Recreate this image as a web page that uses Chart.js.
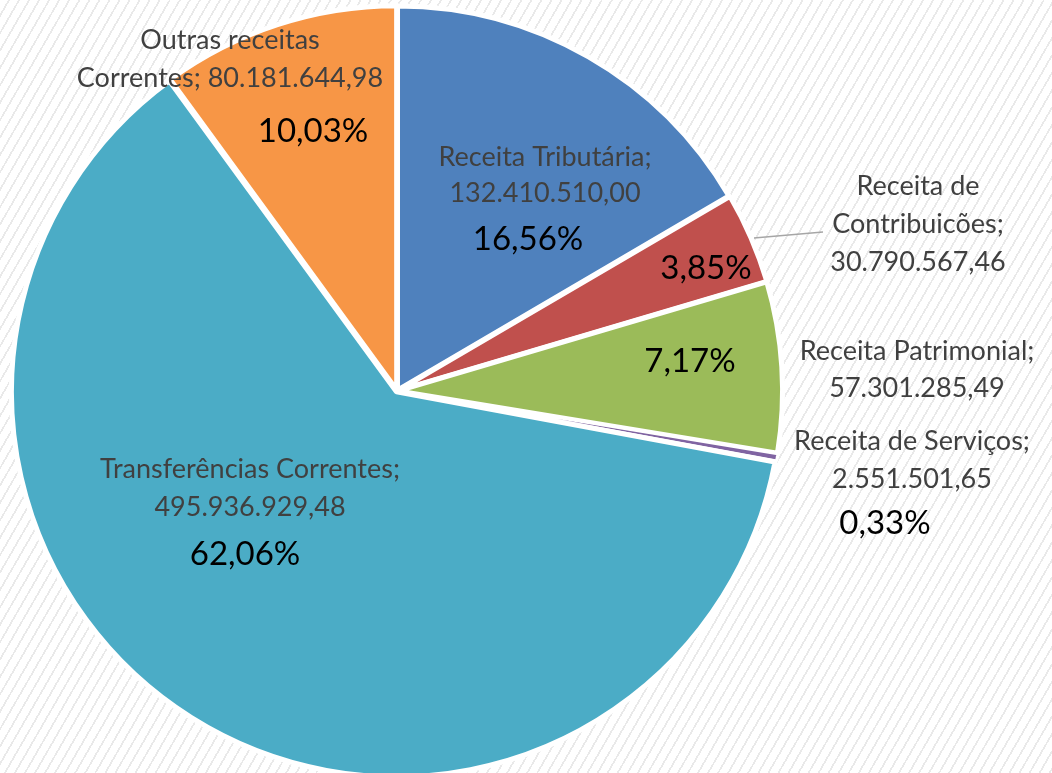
<!DOCTYPE html>
<html>
<head>
<meta charset="utf-8">
<script src="https://cdn.jsdelivr.net/npm/chart.js@4"></script>
<style>
  html, body { margin: 0; padding: 0; }
  body {
    width: 1052px; height: 773px; overflow: hidden;
    background: repeating-linear-gradient(120deg, #ffffff 0px, #ffffff 7px, #e9e9e9 7px, #e9e9e9 8.7px);
  }
  canvas { display: block; }
</style>
</head>
<body>
<canvas id="pie" width="1052" height="773"></canvas>
<script>
// data
const categories = ['Receita Tributária', 'Receita de Contribuicões', 'Receita Patrimonial',
                    'Receita de Serviços', 'Transferências Correntes', 'Outras receitas Correntes'];
const values = [132410510.00, 30790567.46, 57301285.49, 2551501.65, 495936929.48, 80181644.98];
const percentLabels = ['16,56%', '3,85%', '7,17%', '0,33%', '62,06%', '10,03%'];
const colors = ['#4f81bd', '#c0504d', '#9bbb59', '#8064a2', '#4bacc6', '#f79646'];

// text placement (label lines + percentage), canvas px
const labelLayout = [
  { lines: [['Receita Tributária;', 545, 157], ['132.410.510,00', 545, 193]], pct: [528, 239] },
  { lines: [['Receita de', 918, 186], ['Contribuicões;', 918, 224], ['30.790.567,46', 918, 262]], pct: [706, 268] },
  { lines: [['Receita Patrimonial;', 917, 351], ['57.301.285,49', 917, 388]], pct: [690, 361] },
  { lines: [['Receita de Serviços;', 912, 441], ['2.551.501,65', 912, 479]], pct: [885, 523] },
  { lines: [['Transferências Correntes;', 250, 469], ['495.936.929,48', 250, 507]], pct: [245, 554] },
  { lines: [['Outras receitas', 230, 40], ['Correntes; 80.181.644,98', 230, 78]], pct: [313, 131] }
];

const labelsPlugin = {
  id: 'sliceLabels',
  afterDatasetsDraw(chart) {
    const ctx = chart.ctx;
    ctx.save();
    // leader line for Contribuicões
    ctx.strokeStyle = '#a6a6a6';
    ctx.lineWidth = 1.5;
    ctx.beginPath();
    ctx.moveTo(754, 238);
    ctx.lineTo(823, 232);
    ctx.stroke();

    ctx.textAlign = 'center';
    ctx.textBaseline = 'middle';
    labelLayout.forEach((l, i) => {
      ctx.fillStyle = '#404040';
      ctx.font = '27px Lato';
      l.lines.forEach(([t, x, y]) => ctx.fillText(t, x, y));
      ctx.fillStyle = '#000000';
      ctx.font = '33px Lato';
      ctx.fillText(percentLabels[i], l.pct[0], l.pct[1]);
    });
    ctx.restore();
  }
};

new Chart(document.getElementById('pie'), {
  type: 'pie',
  data: {
    labels: categories,
    datasets: [{
      data: values,
      backgroundColor: colors,
      borderColor: '#ffffff',
      borderWidth: [5, 5, 5, 3, 5, 5],
      offset: 4,
      radius: 384
    }]
  },
  options: {
    responsive: false,
    animation: false,
    rotation: 0,
    layout: { padding: { left: 10, right: 268, top: 9, bottom: 0 } },
    plugins: {
      legend: { display: false },
      tooltip: { enabled: false }
    }
  },
  plugins: [labelsPlugin]
});
</script>
</body>
</html>
